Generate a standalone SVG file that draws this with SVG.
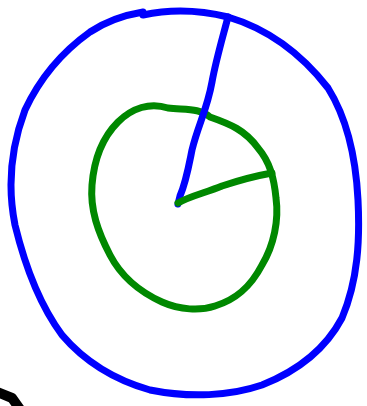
<svg xmlns="http://www.w3.org/2000/svg" width="367" height="406" viewBox="0 0 367 406">
<style>
.s{fill:none;stroke-linecap:round;stroke-linejoin:round}
.b{stroke:#0000ff;stroke-width:7}
.g{stroke:#008800;stroke-width:7}
.k{stroke:#000;stroke-width:10}
</style>
<rect width="367" height="406" fill="#fff"/>
<g id="outer-circle">
<path class="s b" d="M143,12 L143,15 C170,9 200,10 228,17 C265,28 300,52 328,88 C348,120 356,160 358,200 C360,240 358,280 342,318 C325,350 295,372 262,385 C230,396 190,398 150,390 C115,380 85,362 62,335 C42,308 26,270 15,225 C8,190 10,150 25,110 C40,78 62,52 90,32 C108,20 125,15 143,12"/>
</g>
<g id="inner-circle">
<path class="s g" d="M168,108 C185,110 200,108 210,117 C230,124 245,130 258,148 C270,162 274,178 276,198 C279,220 274,245 262,265 C250,288 235,300 215,306 C200,311 180,310 162,302 C140,292 122,278 110,255 C98,232 90,210 92,185 C94,160 102,138 118,122 C132,108 150,102 168,108"/>
</g>
<g id="connectors">
<path class="s b" d="M228,17 C222,40 216,60 212,82 C207,110 198,125 192,150 C188,170 186,182 180,196 L178,204"/>
<path class="s g" d="M178,203 C190,196 205,193 222,186 C240,180 255,176 272,173"/>
</g>
<g id="mark">
<path class="s k" d="M-8,390 L12,398 L22,412"/>
</g>
</svg>
